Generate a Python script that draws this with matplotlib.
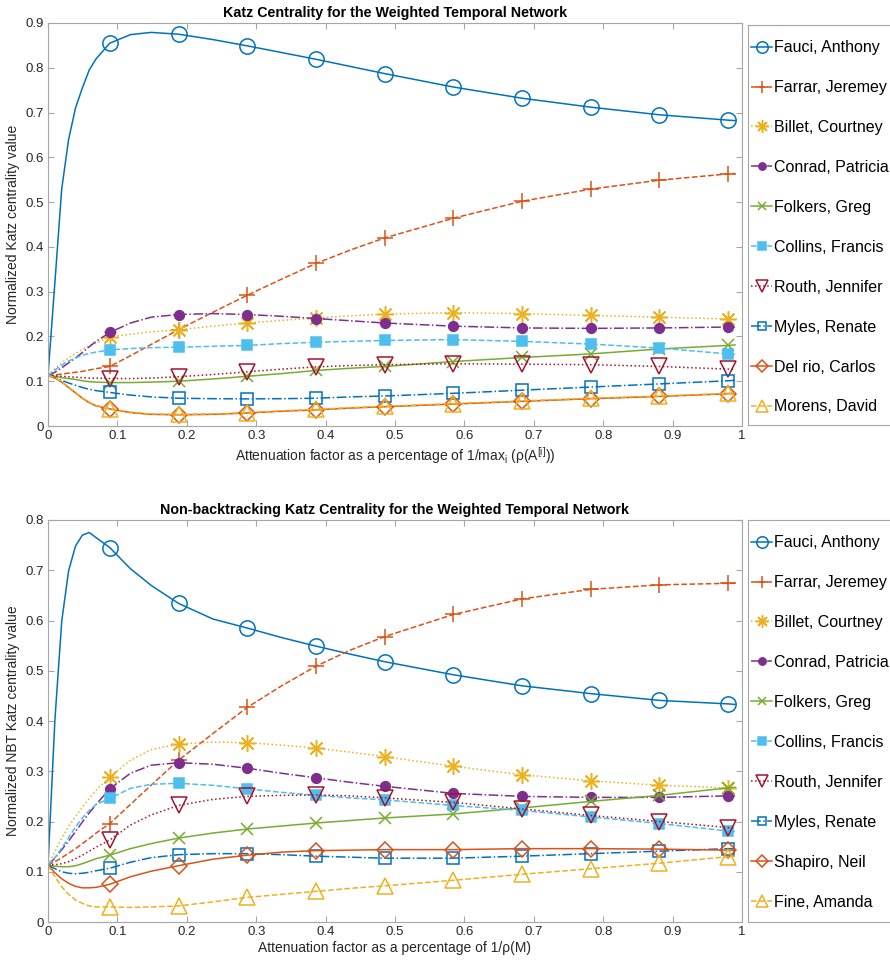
import matplotlib
matplotlib.use("Agg")
import matplotlib.pyplot as plt

plt.rcParams['font.family'] = ['Liberation Sans', 'DejaVu Sans']
plt.rcParams['mathtext.fontset'] = 'custom'
plt.rcParams['mathtext.rm'] = 'Liberation Sans'
plt.rcParams['mathtext.it'] = 'Liberation Sans:italic'

# ---------------- data ----------------
X = [0, 0.0099, 0.0198, 0.0297, 0.0396, 0.0495, 0.0594, 0.0693, 0.0891, 0.1188,
     0.1485, 0.1881, 0.2376, 0.2871, 0.3366, 0.3861, 0.4356, 0.4851, 0.5841,
     0.6831, 0.7821, 0.8811, 0.9801, 0.99]
MARK_IDX = [8, 11, 13, 15, 17, 18, 19, 20, 21, 22]

top_names = ["Fauci, Anthony", "Farrar, Jeremey", "Billet, Courtney", "Conrad, Patricia",
             "Folkers, Greg", "Collins, Francis", "Routh, Jennifer", "Myles, Renate",
             "Del rio, Carlos", "Morens, David"]
bot_names = ["Fauci, Anthony", "Farrar, Jeremey", "Billet, Courtney", "Conrad, Patricia",
             "Folkers, Greg", "Collins, Francis", "Routh, Jennifer", "Myles, Renate",
             "Shapiro, Neil", "Fine, Amanda"]

top_fauci = [0.113, 0.32, 0.53, 0.64, 0.71, 0.755, 0.795, 0.82, 0.855, 0.874, 0.879, 0.875,
             0.863, 0.849, 0.834, 0.819, 0.803, 0.787, 0.757, 0.732, 0.712, 0.695, 0.683, 0.682]
top_farrar = [0.113, 0.114, 0.116, 0.118, 0.120, 0.122, 0.125, 0.128, 0.133, 0.157, 0.182, 0.215,
              0.254, 0.292, 0.328, 0.363, 0.393, 0.420, 0.464, 0.502, 0.529, 0.549, 0.563, 0.564]
top_billet = [0.113, 0.128, 0.141, 0.152, 0.162, 0.171, 0.179, 0.186, 0.199, 0.205, 0.210, 0.215,
              0.223, 0.230, 0.236, 0.241, 0.246, 0.250, 0.253, 0.251, 0.247, 0.243, 0.239, 0.238]
top_conrad = [0.113, 0.120, 0.130, 0.141, 0.152, 0.164, 0.177, 0.189, 0.209, 0.230, 0.243, 0.249,
              0.251, 0.249, 0.245, 0.240, 0.235, 0.230, 0.223, 0.219, 0.218, 0.219, 0.221, 0.221]
top_folkers = [0.113, 0.111, 0.108, 0.106, 0.104, 0.101, 0.099, 0.098, 0.097, 0.097, 0.098, 0.100,
               0.105, 0.111, 0.117, 0.124, 0.129, 0.133, 0.144, 0.153, 0.161, 0.172, 0.180, 0.181]
top_collins = [0.113, 0.125, 0.136, 0.145, 0.152, 0.158, 0.162, 0.165, 0.170, 0.173, 0.175, 0.176,
               0.178, 0.180, 0.184, 0.187, 0.189, 0.191, 0.193, 0.189, 0.183, 0.174, 0.161, 0.160]
top_routh = [0.113, 0.112, 0.111, 0.110, 0.109, 0.108, 0.107, 0.107, 0.106, 0.106, 0.107, 0.110,
             0.115, 0.121, 0.127, 0.132, 0.135, 0.137, 0.139, 0.138, 0.137, 0.133, 0.127, 0.126]
top_myles = [0.113, 0.108, 0.102, 0.096, 0.091, 0.086, 0.082, 0.079, 0.075, 0.069, 0.065, 0.062,
             0.061, 0.0605, 0.061, 0.062, 0.065, 0.067, 0.073, 0.080, 0.087, 0.094, 0.101, 0.102]
top_delrio = [0.113, 0.107, 0.098, 0.086, 0.074, 0.062, 0.052, 0.045, 0.038, 0.030, 0.026, 0.025,
              0.026, 0.029, 0.033, 0.036, 0.040, 0.043, 0.049, 0.055, 0.061, 0.066, 0.072, 0.073]
top_morens = [0.113, 0.108, 0.099, 0.087, 0.075, 0.063, 0.053, 0.046, 0.039, 0.031, 0.027, 0.026,
              0.027, 0.030, 0.034, 0.037, 0.041, 0.044, 0.050, 0.056, 0.062, 0.067, 0.073, 0.074]

bot_fauci = [0.113, 0.401, 0.599, 0.699, 0.748, 0.770, 0.775, 0.765, 0.745, 0.703, 0.670, 0.634,
             0.603, 0.585, 0.566, 0.549, 0.533, 0.518, 0.492, 0.470, 0.4545, 0.441, 0.434, 0.433]
bot_farrar = [0.113, 0.120, 0.128, 0.137, 0.146, 0.156, 0.166, 0.177, 0.196, 0.234, 0.272, 0.322,
              0.375, 0.427, 0.470, 0.509, 0.541, 0.568, 0.612, 0.643, 0.662, 0.671, 0.674, 0.674]
bot_billet = [0.113, 0.140, 0.167, 0.190, 0.210, 0.228, 0.246, 0.262, 0.289, 0.322, 0.343, 0.354,
              0.358, 0.357, 0.352, 0.346, 0.338, 0.329, 0.310, 0.293, 0.281, 0.272, 0.267, 0.266]
bot_conrad = [0.113, 0.127, 0.144, 0.161, 0.180, 0.199, 0.217, 0.234, 0.265, 0.296, 0.312, 0.317,
              0.314, 0.306, 0.296, 0.287, 0.278, 0.270, 0.256, 0.250, 0.248, 0.248, 0.251, 0.251]
bot_folkers = [0.113, 0.111, 0.110, 0.110, 0.112, 0.116, 0.121, 0.126, 0.133, 0.146, 0.156, 0.167,
               0.177, 0.185, 0.191, 0.197, 0.202, 0.207, 0.215, 0.227, 0.240, 0.252, 0.267, 0.268]
bot_collins = [0.113, 0.128, 0.147, 0.168, 0.189, 0.207, 0.222, 0.234, 0.246, 0.266, 0.274, 0.276,
               0.272, 0.265, 0.258, 0.252, 0.247, 0.243, 0.232, 0.222, 0.209, 0.196, 0.181, 0.180]
bot_routh = [0.113, 0.114, 0.116, 0.120, 0.126, 0.133, 0.141, 0.149, 0.163, 0.193, 0.213, 0.232,
             0.244, 0.250, 0.252, 0.253, 0.251, 0.247, 0.238, 0.225, 0.212, 0.200, 0.188, 0.187]
bot_myles = [0.113, 0.106, 0.100, 0.097, 0.096, 0.097, 0.099, 0.102, 0.107, 0.119, 0.128, 0.134,
             0.136, 0.136, 0.134, 0.131, 0.129, 0.127, 0.127, 0.131, 0.136, 0.141, 0.146, 0.146]
bot_shapiro = [0.113, 0.098, 0.086, 0.077, 0.071, 0.068, 0.068, 0.069, 0.075, 0.090, 0.101, 0.112,
               0.125, 0.133, 0.139, 0.142, 0.143, 0.144, 0.144, 0.146, 0.146, 0.145, 0.143, 0.143]
bot_fine = [0.113, 0.090, 0.070, 0.055, 0.044, 0.037, 0.032, 0.030, 0.030, 0.029, 0.030, 0.032,
            0.040, 0.049, 0.055, 0.061, 0.067, 0.072, 0.083, 0.095, 0.106, 0.117, 0.130, 0.131]

top_series = [top_fauci, top_farrar, top_billet, top_conrad, top_folkers, top_collins,
              top_routh, top_myles, top_delrio, top_morens]
bot_series = [bot_fauci, bot_farrar, bot_billet, bot_conrad, bot_folkers, bot_collins,
              bot_routh, bot_myles, bot_shapiro, bot_fine]

# ---------------- styles ----------------
C1, C2, C3, C4, C5, C6, C7 = '#0072BD', '#D95319', '#EDB120', '#7E2F8E', '#77AC30', '#4DBEEE', '#A2142F'
styles = [
    dict(color=C1, ls='-', marker='o', ms=11, mfc='none'),
    dict(color=C2, ls='--', marker='+', ms=12, mfc='none'),
    dict(color=C3, ls=':', marker=(8, 2, 0), ms=12, mfc='none'),
    dict(color=C4, ls='-.', marker='o', ms=7, mfc=C4),
    dict(color=C5, ls='-', marker='x', ms=8, mfc='none'),
    dict(color=C6, ls='--', marker='s', ms=7.5, mfc=C6),
    dict(color=C7, ls=':', marker='v', ms=11, mfc='none'),
    dict(color=C1, ls='-.', marker='s', ms=8, mfc='none'),
    dict(color=C2, ls='-', marker='D', ms=8.5, mfc='none'),
    dict(color=C3, ls='--', marker='^', ms=11, mfc='none'),
]

W, H = 890, 963
fig = plt.figure(figsize=(W / 100, H / 100), dpi=100)

GRAY = '#a6a6a6'
TXT = '#262626'


def make_panel(rect, lrect, series, names, ymax, title, xlabel, ylabel):
    ax = fig.add_axes(rect)
    handles = []
    for ys, st, nm in zip(series, styles, names):
        h, = ax.plot(X, ys, color=st['color'], ls=st['ls'], lw=1.1,
                     marker=st['marker'], ms=st['ms'], mfc=st['mfc'],
                     mec=st['color'], mew=1.1, markevery=MARK_IDX, label=nm)
        handles.append(h)
    ax.set_xlim(0, 1)
    ax.set_ylim(0, ymax)
    ax.set_xticks([i / 10 for i in range(11)])
    ax.set_xticklabels(['0', '0.1', '0.2', '0.3', '0.4', '0.5', '0.6', '0.7', '0.8', '0.9', '1'])
    yt = [i / 10 for i in range(int(round(ymax * 10)) + 1)]
    ax.set_yticks(yt)
    ax.set_yticklabels(['0'] + ['%.1f' % v for v in yt[1:]])
    ax.tick_params(direction='in', length=4, width=0.8, color=GRAY, labelcolor=TXT,
                   labelsize=9.5, top=True, right=True, pad=3)
    for s in ax.spines.values():
        s.set_color(GRAY)
        s.set_linewidth(0.8)
    ax.set_title(title, fontsize=10.3, fontweight='bold', pad=4)
    ax.set_xlabel(xlabel, fontsize=10, color=TXT, labelpad=2)
    ax.set_ylabel(ylabel, fontsize=10, color=TXT, labelpad=4)

    lax = fig.add_axes(lrect)
    lax.set_xticks([])
    lax.set_yticks([])
    for s in lax.spines.values():
        s.set_color(GRAY)
        s.set_linewidth(0.8)
    lax.legend(handles, names, loc='upper left', bbox_to_anchor=(0, 0.97),
               borderaxespad=0, frameon=False, fontsize=11.5, handlelength=1.3,
               handletextpad=0.13, labelspacing=1.56, borderpad=0.2,
               markerscale=0.75, labelcolor='black')
    return ax


make_panel([48 / W, 1 - 426 / H, 694 / W, 403 / H],
           [748 / W, 1 - 425 / H, 150 / W, 400 / H],
           top_series, top_names, 0.9,
           'Katz Centrality for the Weighted Temporal Network',
           r'Attenuation factor as a percentage of 1/max$_{\mathrm{i}}$ (ρ(A$^{[\mathrm{i}]}$))',
           'Normalized Katz centrality value')
make_panel([48 / W, 1 - 922 / H, 694 / W, 402 / H],
           [748 / W, 1 - 922 / H, 150 / W, 402 / H],
           bot_series, bot_names, 0.8,
           'Non-backtracking Katz Centrality for the Weighted Temporal Network',
           'Attenuation factor as a percentage of 1/ρ(M)',
           'Normalized NBT Katz centrality value')

fig.savefig('out.png', dpi=100, facecolor='white')
